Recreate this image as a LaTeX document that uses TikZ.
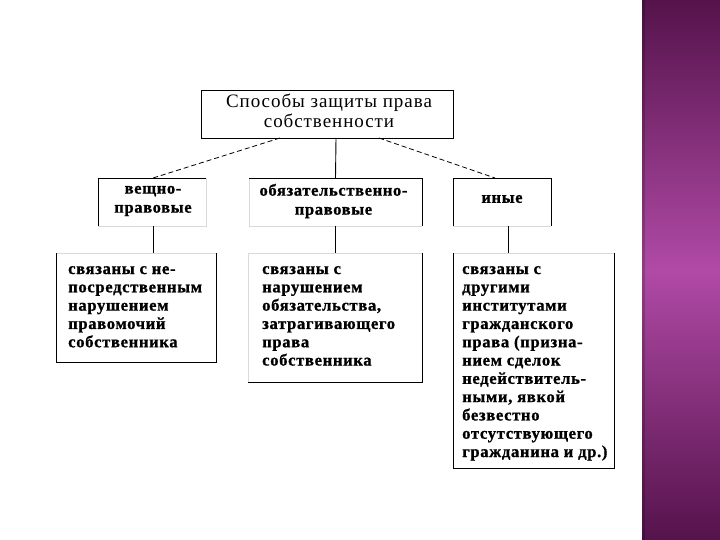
\documentclass[tikz,border=0pt]{standalone}
\usepackage{fontspec}
\setmainfont{Liberation Serif}
\newfontfamily\topfont[LetterSpace=5]{Liberation Serif}
\newfontfamily\midfont[LetterSpace=4,BoldFeatures={FakeBold=1}]{Liberation Serif}
\newfontfamily\bodyfont[LetterSpace=4,BoldFeatures={FakeBold=1}]{Liberation Serif}
\definecolor{bandA}{HTML}{55134B}
\definecolor{bandB}{HTML}{B04AA6}
\begin{document}
\begin{tikzpicture}[x=1pt,y=-1pt,
  frame/.style={inner sep=0pt, outer sep=0pt},
  edge/.style={line width=0.9pt, black},
  faint/.style={line width=0.9pt, black!15},
  dashline/.style={line width=0.8pt, black, dash pattern=on 5pt off 3pt},
  toptxt/.style={font=\topfont\fontsize{19}{20}\selectfont, align=center, inner sep=0pt},
  midtxt/.style={font=\midfont\bfseries\fontsize{16.5}{19}\selectfont, align=center, inner sep=0pt},
  bodytxt/.style={font=\bodyfont\bfseries\fontsize{16.6}{18.3}\selectfont, align=left, inner sep=0pt, anchor=north west}]
\useasboundingbox (0,0) rectangle (720,540);
\fill[white] (0,0) rectangle (720,540);
% purple band
\shade[top color=bandA, bottom color=bandA, middle color=bandB] (642,0) rectangle (720,540);
\fill[black, opacity=0.18] (642,0) rectangle (645,540);

% boxes
\node[frame, minimum width=252, minimum height=48] (top) at (327,114) {};
\node[frame, minimum width=108, minimum height=48] (a) at (152,202) {};
\node[frame, minimum width=173, minimum height=48] (b) at (335.5,202) {};
\node[frame, minimum width=98, minimum height=48] (c) at (502,202) {};
\node[frame, minimum width=160, minimum height=109] (d) at (136,307.5) {};
\node[frame, minimum width=174, minimum height=129] (e) at (335,317.5) {};
\node[frame, minimum width=161, minimum height=215] (f) at (533.5,360.5) {};

% faint (faded) sides
\draw[faint] (a.north east) -- (a.south east) -- (a.south west);
\draw[faint] (b.north west) -- (b.south west) -- (b.south east);
\draw[faint] (c.south west) -- (c.south east);
\draw[faint] (d.north west) -- (d.north east);
\draw[faint] (e.south west) -- (e.north west) -- (e.north east);
\draw[faint] (f.north west) -- (f.north east);

% dark sides
\draw[edge] (top.south west) rectangle (top.north east);
\draw[edge] (a.south west) -- (a.north west) -- (a.north east);
\draw[edge] (b.north west) -- (b.north east) -- (b.south east);
\draw[edge] (c.south west) -- (c.north west) -- (c.north east) -- (c.south east);
\draw[edge] (d.north west) -- (d.south west) -- (d.south east) -- (d.north east);
\draw[edge] (e.south west) -- (e.south east) -- (e.north east);
\draw[edge] (f.north west) -- (f.south west) -- (f.south east) -- (f.north east);

% texts
\node[toptxt] (ttop) at (329,111) {Способы защиты права\\собственности};
\node[midtxt] (ta) at (153,201) {вещно-\\правовые};
\node[midtxt] (tb) at (333.5,201) {обязательственно-\\правовые};
\node[midtxt] (tc) at (502,199) {иные};
\node[bodytxt] (td) at (68,266) {связаны с не-\\посредственным\\нарушением\\правомочий\\собственника};
\node[bodytxt] (te) at (262,266) {связаны с\\нарушением\\обязательства,\\затрагивающего\\права\\собственника};
\node[bodytxt] (tf) at (462,266) {связаны с\\другими\\институтами\\гражданского\\права (призна-\\нием сделок\\недействитель-\\ными, явкой\\безвестно\\отсутствующего\\гражданина и др.)};

% connectors
\draw[dashline] ([xshift=-47pt]top.south) -- ([xshift=1pt]a.north);
\draw[edge] ([xshift=9pt]top.south) -- (b.north);
\draw[dashline] ([xshift=52pt]top.south) -- ([xshift=-7pt]c.north);
\draw[edge] ([xshift=1pt]a.south) -- ([xshift=1pt]a.south |- d.north);
\draw[edge] (b.south) -- (b.south |- e.north);
\draw[edge] ([xshift=6pt]c.south) -- ([xshift=6pt]c.south |- f.north);
\end{tikzpicture}
\end{document}
